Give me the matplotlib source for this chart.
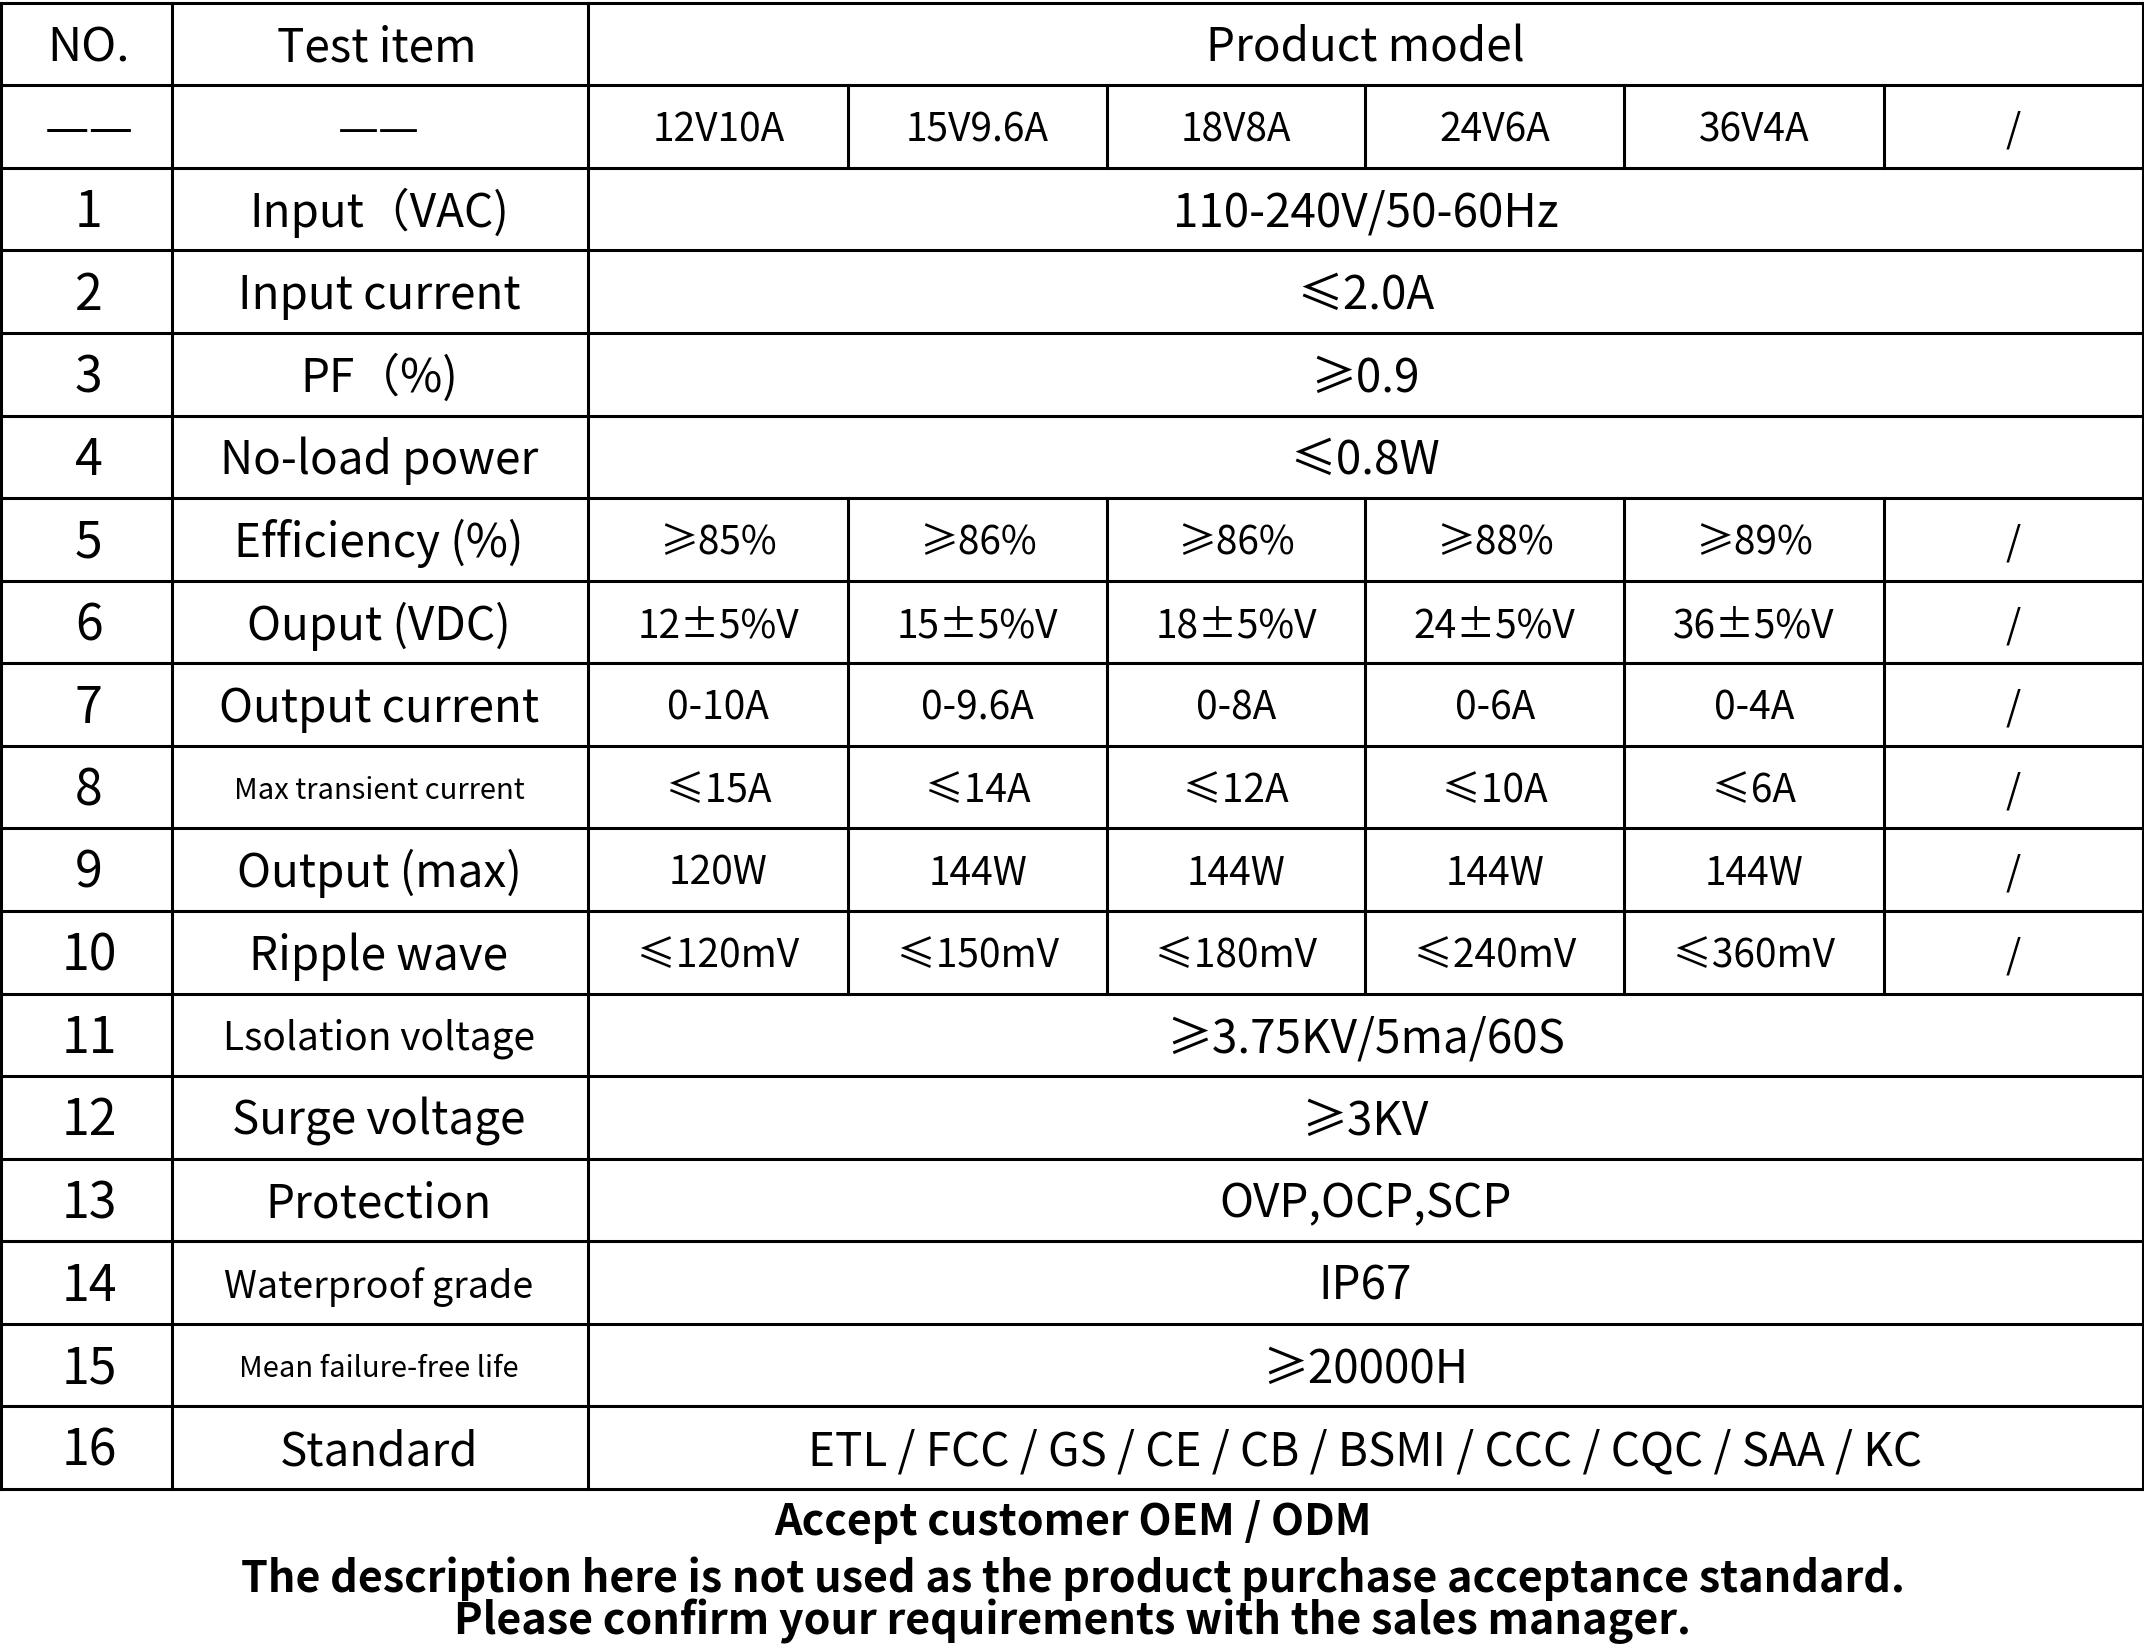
import matplotlib.pyplot as plt

plt.rcParams['font.family'] = ['Noto Sans CJK SC', 'DejaVu Sans']

models = ['12V10A', '15V9.6A', '18V8A', '24V6A', '36V4A', '/']
numbers = ['——'] + [str(i) for i in range(1, 17)]
items = ['——', 'Input（VAC)', 'Input current', 'PF（%)', 'No-load power', 'Efficiency (%)',
         'Ouput (VDC)', 'Output current', 'Max transient current', 'Output (max)',
         'Ripple wave', 'Lsolation voltage', 'Surge voltage', 'Protection',
         'Waterproof grade', 'Mean failure-free life', 'Standard']
item_sizes = {'Max transient current': 21, 'Mean failure-free life': 21,
              'Waterproof grade': 27, 'Lsolation voltage': 28}
# per-row values: either one merged string or a list per model
values = [
    models,
    '110-240V/50-60Hz',
    '≤2.0A',
    '≥0.9',
    '≤0.8W',
    ['≥85%', '≥86%', '≥86%', '≥88%', '≥89%', '/'],
    ['12±5%V', '15±5%V', '18±5%V', '24±5%V', '36±5%V', '/'],
    ['0-10A', '0-9.6A', '0-8A', '0-6A', '0-4A', '/'],
    ['≤15A', '≤14A', '≤12A', '≤10A', '≤6A', '/'],
    ['120W', '144W', '144W', '144W', '144W', '/'],
    ['≤120mV', '≤150mV', '≤180mV', '≤240mV', '≤360mV', '/'],
    '≥3.75KV/5ma/60S',
    '≥3KV',
    'OVP,OCP,SCP',
    'IP67',
    '≥20000H',
    'ETL / FCC / GS / CE / CB / BSMI / CCC / CQC / SAA / KC',
]
footer = ['Accept customer OEM / ODM',
          'The description here is not used as the product purchase acceptance standard.',
          'Please confirm your requirements with the sales manager.']

W, H = 1567, 1209
xs = [1, 126, 430, 620, 809, 998, 1187, 1377, 1566]
top, rh = 2, 60.5
nrows = 18

fig = plt.figure(figsize=(21.44, 16.5), dpi=100)
ax = fig.add_axes([0, 0, 1, 1])
ax.set_xlim(0, W)
ax.set_ylim(H, 0)
ax.axis('off')

lw = 2.2
ybot = top + nrows * rh
for i in range(nrows + 1):
    ax.plot([xs[0], xs[-1]], [top + i * rh] * 2, color='black', lw=lw)
for x in xs[:3] + [xs[-1]]:
    ax.plot([x, x], [top, ybot], color='black', lw=lw)
# inner model dividers, only where cells are split
split_rows = [r + 1 for r, v in enumerate(values) if isinstance(v, list)]
for x in xs[3:-1]:
    for r in split_rows:
        ax.plot([x, x], [top + r * rh, top + (r + 1) * rh], color='black', lw=lw)

def cy(r):
    return top + (r + 0.5) * rh + 3

wt = 'medium'
ax.text(65, cy(0), 'NO.', ha='center', va='center', fontsize=34, fontweight=wt)
ax.text(275, cy(0), 'Test item', ha='center', va='center', fontsize=33, fontweight=wt)
ax.text(998, cy(0), 'Product model', ha='center', va='center', fontsize=33, fontweight=wt)

for r in range(1, nrows):
    ax.text(65, cy(r), numbers[r - 1], ha='center', va='center', fontsize=36, fontweight=wt)
    it = items[r - 1]
    ax.text(277, cy(r), it, ha='center', va='center', fontsize=item_sizes.get(it, 33),
            fontweight=wt)
    v = values[r - 1]
    if isinstance(v, list):
        for c, s in enumerate(v):
            ax.text((xs[c + 2] + xs[c + 3]) / 2, cy(r), s, ha='center', va='center',
                    fontsize=28, fontweight=wt)
    else:
        ax.text(998, cy(r), v, ha='center', va='center', fontsize=33, fontweight=wt)

ax.text(784, 1115, footer[0], ha='center', va='center', fontsize=31, fontweight='bold')
ax.text(784, 1157, footer[1], ha='center', va='center', fontsize=31, fontweight='bold')
ax.text(784, 1188, footer[2], ha='center', va='center', fontsize=31, fontweight='bold')

fig.savefig('out.png', dpi=100, facecolor='white')
